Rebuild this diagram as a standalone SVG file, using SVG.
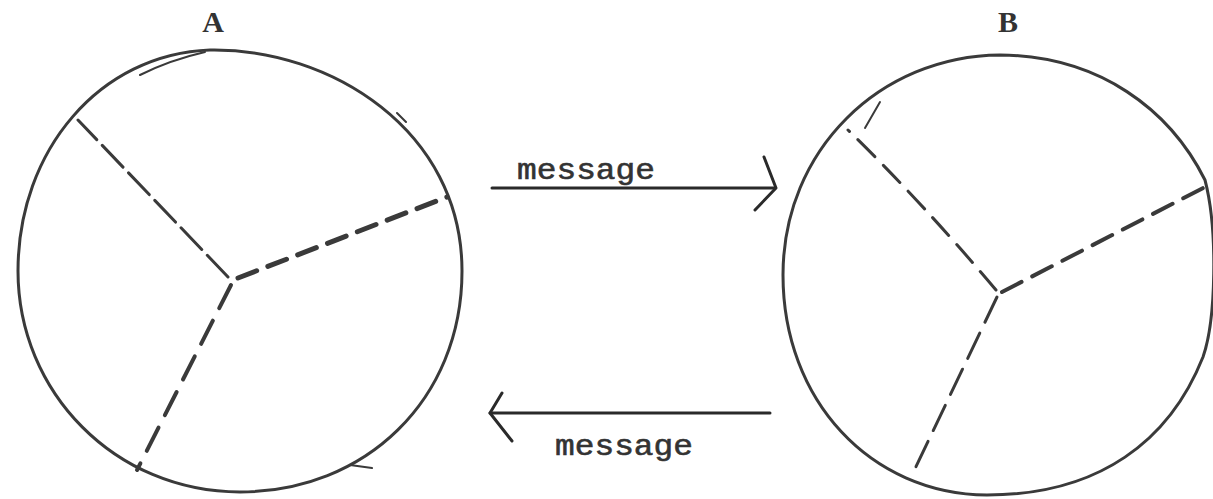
<svg xmlns="http://www.w3.org/2000/svg" width="1213" height="499" viewBox="0 0 1213 499">
<style>
.c{fill:none;stroke:#3a3a3a;stroke-width:3}
.d{fill:none;stroke:#3a3a3a;stroke-linecap:round}
.t{font-family:"Liberation Mono","Courier New",monospace;fill:#333;stroke:#333;stroke-width:0.6}
.l{font-family:"Liberation Serif","Times New Roman",serif;font-weight:bold;fill:#333}
.a{fill:none;stroke:#2a2a2a;stroke-width:3;stroke-linecap:round;stroke-linejoin:round}
</style>
<rect width="1213" height="499" fill="#fff"/>
<g id="nodeA">
<path class="c" d="M210,50 C330,48 462,130 462,271 C462,400 365,492 240,492 C115,492 18,392 18,271 C18,150 100,54 210,50 Z"/>
<path class="d" d="M397,113 L406,122 M350,465 L372,468 M140,75 Q170,60 205,52" stroke-width="2"/>
<line class="d" x1="228" y1="277" x2="78" y2="120" stroke-width="3" stroke-dasharray="30 8"/>
<line class="d" x1="238" y1="278" x2="447" y2="197" stroke-width="5" stroke-dasharray="20 12"/>
<line class="d" x1="231" y1="285" x2="137" y2="470" stroke-width="4" stroke-dasharray="26 14"/>
<text class="l" x="213" y="32" font-size="30" text-anchor="middle">A</text>
</g>
<g id="nodeB">
<path class="c" d="M1000,55 C1100,56 1170,110 1205,180 C1218,230 1216,320 1203,357 C1170,440 1100,495 987,495 C870,494 783,400 783,275 C783,150 880,56 1000,55 Z"/>
<path class="d" d="M865,128 L880,102" stroke-width="2"/>
<path class="d" d="M996,290 Q920,200 848,130" stroke-width="3" stroke-dasharray="24 12"/>
<line class="d" x1="1002" y1="292" x2="1205" y2="187" stroke-width="4" stroke-dasharray="22 12"/>
<line class="d" x1="997" y1="297" x2="912" y2="475" stroke-width="3" stroke-dasharray="28 12"/>
<text class="l" x="1008" y="32" font-size="30" text-anchor="middle">B</text>
</g>
<g id="connectors">
<line class="a" x1="492" y1="188" x2="775" y2="188"/>
<polyline class="a" points="764,157 776,188 755,210"/>
<line class="a" x1="770" y1="413" x2="490" y2="413"/>
<polyline class="a" points="502,393 490,413 512,441"/>
<text class="t" x="517" y="179" font-size="30" textLength="138" lengthAdjust="spacingAndGlyphs">message</text>
<text class="t" x="555" y="455" font-size="30" textLength="138" lengthAdjust="spacingAndGlyphs">message</text>
</g>
</svg>
